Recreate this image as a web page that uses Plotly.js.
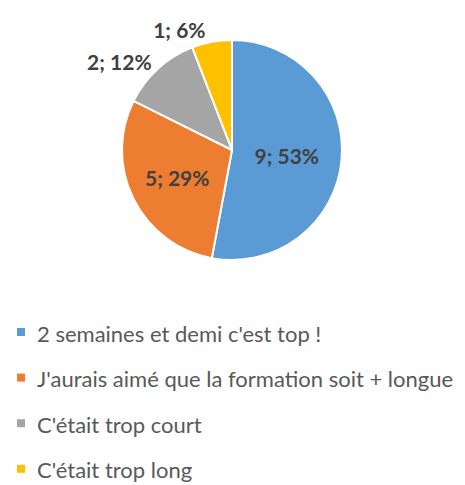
<!DOCTYPE html>
<html>
<head>
<meta charset="utf-8">
<script src="https://cdn.plot.ly/plotly-3.0.1.min.js"></script>
<style>html,body{margin:0;padding:0;background:#fff;}#chart{width:465px;height:485px;}</style>
</head>
<body>
<div id="chart"></div>
<script>
const categories = [
  "2 semaines et demi c'est top !",
  "J'aurais aimé que la formation soit + longue",
  "C'était trop court",
  "C'était trop long"
];
const counts = [9, 5, 2, 1];
const colors = ["#5B9BD5", "#ED7D31", "#A5A5A5", "#FFC000"];
const labelPositions = ["inside", "inside", "outside", "outside"];

const W = 465, H = 485;
const cx = 232, cy = 150, r = 110;

const labelFont = { family: "Lato, sans-serif", size: 21, color: "#404040", weight: "bold" };
const pie = {
  type: "pie",
  labels: categories,
  values: counts,
  sort: false,
  direction: "clockwise",
  rotation: 0,
  marker: { colors: colors, line: { color: "#ffffff", width: 2 } },
  texttemplate: "%{value}; %{percent:.0%}",
  textposition: labelPositions,
  insidetextorientation: "horizontal",
  textfont: labelFont,
  outsidetextfont: labelFont,
  insidetextfont: labelFont,
  showlegend: false,
  hoverinfo: "label+value+percent",
  domain: { x: [(cx - r) / W, (cx + r) / W], y: [(H - cy - r) / H, (H - cy + r) / H] }
};

const legendTop = 332, legendStep = 45.6, sq = 8, sqX = 17, textX = 35;
const shapes = [], annotations = [];
categories.forEach((c, i) => {
  const yc = legendTop + i * legendStep;
  shapes.push({
    type: "rect", xref: "paper", yref: "paper",
    x0: sqX / W, x1: (sqX + sq) / W,
    y0: (H - yc - sq / 2) / H, y1: (H - yc + sq / 2) / H,
    fillcolor: colors[i], line: { width: 0 }
  });
  annotations.push({
    xref: "paper", yref: "paper", x: textX / W, y: (H - yc - 1) / H,
    xanchor: "left", yanchor: "middle", showarrow: false,
    text: c, font: { family: "Lato, sans-serif", size: 22, color: "#595959" }
  });
});

const layout = {
  width: W, height: H,
  margin: { l: 0, r: 0, t: 0, b: 0 },
  paper_bgcolor: "#ffffff",
  showlegend: false,
  shapes: shapes,
  annotations: annotations
};

Plotly.newPlot("chart", [pie], layout, { displayModeBar: false, staticPlot: true });
</script>
</body>
</html>
